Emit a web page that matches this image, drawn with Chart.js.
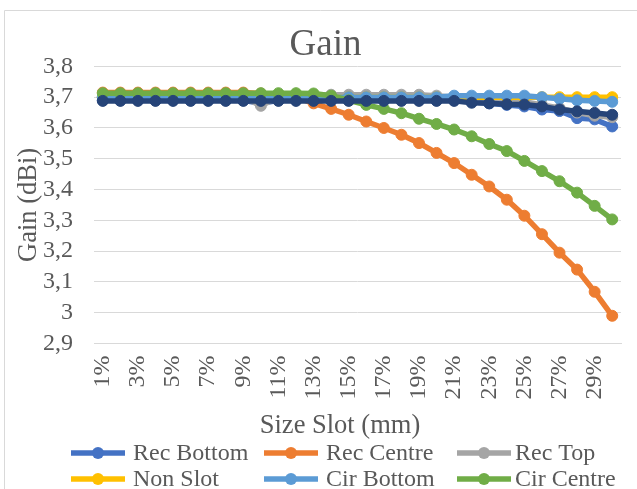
<!DOCTYPE html>
<html>
<head>
<meta charset="utf-8">
<script src="https://cdn.jsdelivr.net/npm/chart.js@4/dist/chart.umd.min.js"></script>
<style>
  html, body { margin: 0; padding: 0; background: #ffffff; }
  #wrap { position: relative; width: 637px; height: 489px; }
</style>
</head>
<body>
<div id="wrap"><canvas id="c" width="637" height="489"></canvas></div>
<script>
// Slot size as a share of the patch (categories on the x axis)
const categories = ['1%','2%','3%','4%','5%','6%','7%','8%','9%','10%','11%','12%','13%','14%','15%',
                    '16%','17%','18%','19%','20%','21%','22%','23%','24%','25%','26%','27%','28%','29%','30%'];

// Gain (dBi) per slot configuration
const recBottom = [3.69,3.69,3.69,3.69,3.69,3.69,3.69,3.69,3.69,3.68,3.69,3.69,3.69,3.69,3.69,
                   3.69,3.69,3.69,3.69,3.69,3.69,3.685,3.68,3.675,3.67,3.66,3.655,3.632,3.628,3.605];
const recCentre = [3.715,3.715,3.715,3.715,3.715,3.715,3.715,3.715,3.715,3.712,3.705,3.70,3.68,3.662,3.643,
                   3.621,3.60,3.578,3.551,3.519,3.486,3.448,3.41,3.367,3.315,3.255,3.195,3.14,3.068,2.99];
const recTop    = [3.70,3.70,3.70,3.70,3.70,3.70,3.70,3.70,3.70,3.672,3.70,3.70,3.708,3.708,3.708,
                   3.708,3.708,3.708,3.708,3.705,3.70,3.695,3.69,3.69,3.685,3.675,3.665,3.65,3.64,3.635];
const nonSlot   = [3.70,3.70,3.70,3.70,3.70,3.70,3.70,3.70,3.70,3.70,3.70,3.70,3.70,3.70,3.70,
                   3.70,3.70,3.70,3.70,3.70,3.70,3.70,3.70,3.70,3.70,3.70,3.70,3.70,3.70,3.70];
const cirBottom = [3.70,3.70,3.70,3.70,3.70,3.70,3.70,3.70,3.70,3.70,3.70,3.70,3.70,3.70,3.70,
                   3.70,3.70,3.70,3.70,3.70,3.705,3.705,3.705,3.705,3.705,3.70,3.695,3.69,3.688,3.685];
const cirCentre = [3.713,3.713,3.713,3.713,3.713,3.713,3.713,3.713,3.713,3.713,3.713,3.713,3.712,3.705,3.69,
                   3.675,3.662,3.648,3.63,3.613,3.595,3.573,3.548,3.525,3.493,3.46,3.427,3.39,3.347,3.303];
const cirTop    = [3.688,3.688,3.688,3.688,3.688,3.688,3.688,3.688,3.688,3.688,3.688,3.688,3.688,3.688,3.688,
                   3.688,3.688,3.688,3.688,3.688,3.688,3.682,3.68,3.677,3.676,3.67,3.66,3.654,3.649,3.643];

const seriesNames  = ['Rec Bottom','Rec Centre','Rec Top','Non Slot','Cir Bottom','Cir Centre','Cir Top'];
const seriesValues = [recBottom, recCentre, recTop, nonSlot, cirBottom, cirCentre, cirTop];
const seriesColors = ['#4472C4','#ED7D31','#A5A5A5','#FFC000','#5B9BD5','#70AD47','#264478'];
const legendCount  = 6;

// Value axis ticks
const yMin = 2.9, yMax = 3.8, yStep = 0.1;

const FONT = "'Liberation Serif', 'Times New Roman', serif";
const TEXT = '#595959';
const GRID = '#D9D9D9';

const datasets = seriesValues.map((vals, i) => ({
  label: seriesNames[i],
  data: vals,
  borderColor: seriesColors[i],
  backgroundColor: seriesColors[i],
  pointBackgroundColor: seriesColors[i],
  pointBorderColor: seriesColors[i],
  borderWidth: 5.5,
  pointRadius: 5.5,
  pointBorderWidth: 1,
  pointHoverRadius: 5.5,
  tension: 0,
  fill: false,
  order: seriesNames.length - i   // later series paint over earlier ones
}));

// Chart border, x-axis title and the gridded legend under the plot
const decorations = {
  id: 'decorations',
  beforeDraw(chart) {
    const ctx = chart.ctx;
    ctx.save();
    ctx.strokeStyle = GRID;
    ctx.lineWidth = 1;
    ctx.beginPath();
    ctx.moveTo(4.5, 489);
    ctx.lineTo(4.5, 10.5);
    ctx.lineTo(637, 10.5);
    ctx.stroke();
    ctx.restore();
  },
  afterDraw(chart) {
    const ctx = chart.ctx;
    ctx.save();
    ctx.fillStyle = TEXT;
    ctx.textBaseline = 'middle';
    ctx.textAlign = 'center';
    ctx.font = "26.5px " + FONT;
    ctx.fillText('Size Slot (mm)', 340, 426);

    const colSym = [71, 264, 457];
    const colText = [133, 326, 515];
    const rowY = [453, 479];
    ctx.font = "24px " + FONT;
    ctx.textAlign = 'left';
    for (let i = 0; i < legendCount; i++) {
      const c = i % 3, r = Math.floor(i / 3);
      const y = rowY[r];
      const x0 = colSym[c], x1 = x0 + 54;
      ctx.strokeStyle = seriesColors[i];
      ctx.lineWidth = 5.5;
      ctx.beginPath();
      ctx.moveTo(x0, y);
      ctx.lineTo(x1, y);
      ctx.stroke();
      ctx.fillStyle = seriesColors[i];
      ctx.beginPath();
      ctx.arc((x0 + x1) / 2, y, 6, 0, Math.PI * 2);
      ctx.fill();
      ctx.fillStyle = TEXT;
      ctx.fillText(seriesNames[i], colText[c], y + 1);
    }
    ctx.restore();
  }
};

new Chart(document.getElementById('c'), {
  type: 'line',
  data: { labels: categories, datasets },
  plugins: [decorations],
  options: {
    responsive: false,
    animation: false,
    devicePixelRatio: 1,
    layout: { padding: { left: 30, right: 16, top: 0, bottom: 0 } },
    plugins: {
      legend: { display: false },
      tooltip: { enabled: false },
      title: {
        display: true,
        text: 'Gain',
        color: TEXT,
        font: { family: FONT, size: 37, weight: 'normal', lineHeight: 1.2 },
        padding: { top: 23, bottom: -1 }
      }
    },
    scales: {
      x: {
        type: 'category',
        offset: true,
        grid: { display: false, drawTicks: false },
        border: { display: true, color: GRID, width: 1 },
        ticks: {
          autoSkip: false,
          maxRotation: 90,
          minRotation: 90,
          padding: 12,
          color: TEXT,
          font: { family: FONT, size: 24 },
          callback: function (value, index) {
            return index % 2 === 0 ? this.getLabelForValue(value) : '';
          }
        },
        afterFit(scale) {
          scale.height = 145.5;
          scale.paddingLeft = 0;
          scale.paddingRight = 0;
        }
      },
      y: {
        min: yMin,
        max: yMax,
        grid: { color: GRID, lineWidth: 1, drawTicks: false },
        border: { display: false },
        ticks: {
          stepSize: yStep,
          autoSkip: false,
          padding: 21,
          color: TEXT,
          font: { family: FONT, size: 24 },
          callback: (v) => String(Number(v.toFixed(1))).replace('.', ',')
        },
        title: {
          display: true,
          text: 'Gain (dBi)',
          color: TEXT,
          font: { family: FONT, size: 26.5, lineHeight: 1.2 },
          padding: { top: -17, bottom: 0 }
        },
        afterFit(scale) {
          scale.width = 64;
          scale.paddingTop = 0;
          scale.paddingBottom = 0;
        }
      }
    }
  }
});
</script>
</body>
</html>
